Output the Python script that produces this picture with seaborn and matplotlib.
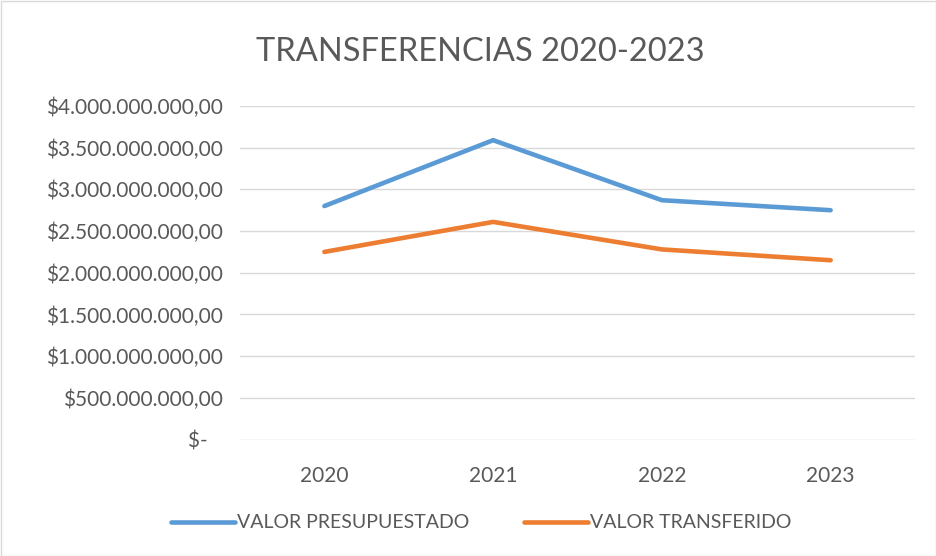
import matplotlib
matplotlib.use("Agg")
import matplotlib.pyplot as plt
import seaborn as sns
import pandas as pd
from matplotlib.patches import Rectangle
from matplotlib.lines import Line2D

years = ["2020", "2021", "2022", "2023"]
valor_presupuestado = [2.80e9, 3.59e9, 2.87e9, 2.75e9]
valor_transferido = [2.25e9, 2.61e9, 2.28e9, 2.15e9]
series_names = ["VALOR PRESUPUESTADO", "VALOR TRANSFERIDO"]
y_ticks = [0, 0.5e9, 1.0e9, 1.5e9, 2.0e9, 2.5e9, 3.0e9, 3.5e9, 4.0e9]
y_tick_labels = ["$-   ", "$500.000.000,00", "$1.000.000.000,00", "$1.500.000.000,00",
                 "$2.000.000.000,00", "$2.500.000.000,00", "$3.000.000.000,00",
                 "$3.500.000.000,00", "$4.000.000.000,00"]
title = "TRANSFERENCIAS 2020-2023"

df = pd.DataFrame({
    "year": years * 2,
    "value": valor_presupuestado + valor_transferido,
    "series": [series_names[0]] * 4 + [series_names[1]] * 4,
})

sns.set_theme(style="white")
plt.rcParams["font.family"] = ["Lato", "DejaVu Sans"]
text_color = "#595959"

fig = plt.figure(figsize=(9.36, 5.56), dpi=100)
ax = fig.add_axes([240 / 936, 1 - 439.5 / 556, 675 / 936, 333.5 / 556])

sns.lineplot(data=df, x="year", y="value", hue="series", ax=ax, sort=False,
             palette={series_names[0]: "#5B9BD5", series_names[1]: "#ED7D31"},
             linewidth=3.3, solid_capstyle="round", legend=False)

ax.set_xlim(-0.5, 3.5)
ax.set_ylim(0, 4.0e9)
ax.set_yticks(y_ticks)
ax.set_yticklabels(y_tick_labels)
ax.yaxis.grid(True, color="#D9D9D9", linewidth=1.0)
ax.set_axisbelow(True)
for s in ax.spines.values():
    s.set_visible(False)
ax.tick_params(axis="both", length=0, labelsize=15, colors=text_color)
ax.tick_params(axis="y", pad=12)
ax.tick_params(axis="x", pad=19)
ax.set_xlabel("")
ax.set_ylabel("")

fig.text(480 / 936, 1 - 52 / 556, title, ha="center", va="center",
         fontsize=23.5, color=text_color)

handles = [Line2D([], [], color="#5B9BD5", lw=3.3, solid_capstyle="round"),
           Line2D([], [], color="#ED7D31", lw=3.3, solid_capstyle="round")]
fig.legend(handles, series_names, loc="center", bbox_to_anchor=(481 / 936, 1 - 523 / 556),
           ncol=2, frameon=False, fontsize=14, labelcolor=text_color,
           handlelength=3.3, handletextpad=0.1, columnspacing=2.8)

fig.patches.append(Rectangle((0.5 / 936, 0.5 / 556), 1 - 1 / 936, 1 - 1 / 556,
                             transform=fig.transFigure, fill=False,
                             edgecolor="#D9D9D9", linewidth=1))

fig.savefig("out.png", dpi=100, facecolor="white")
